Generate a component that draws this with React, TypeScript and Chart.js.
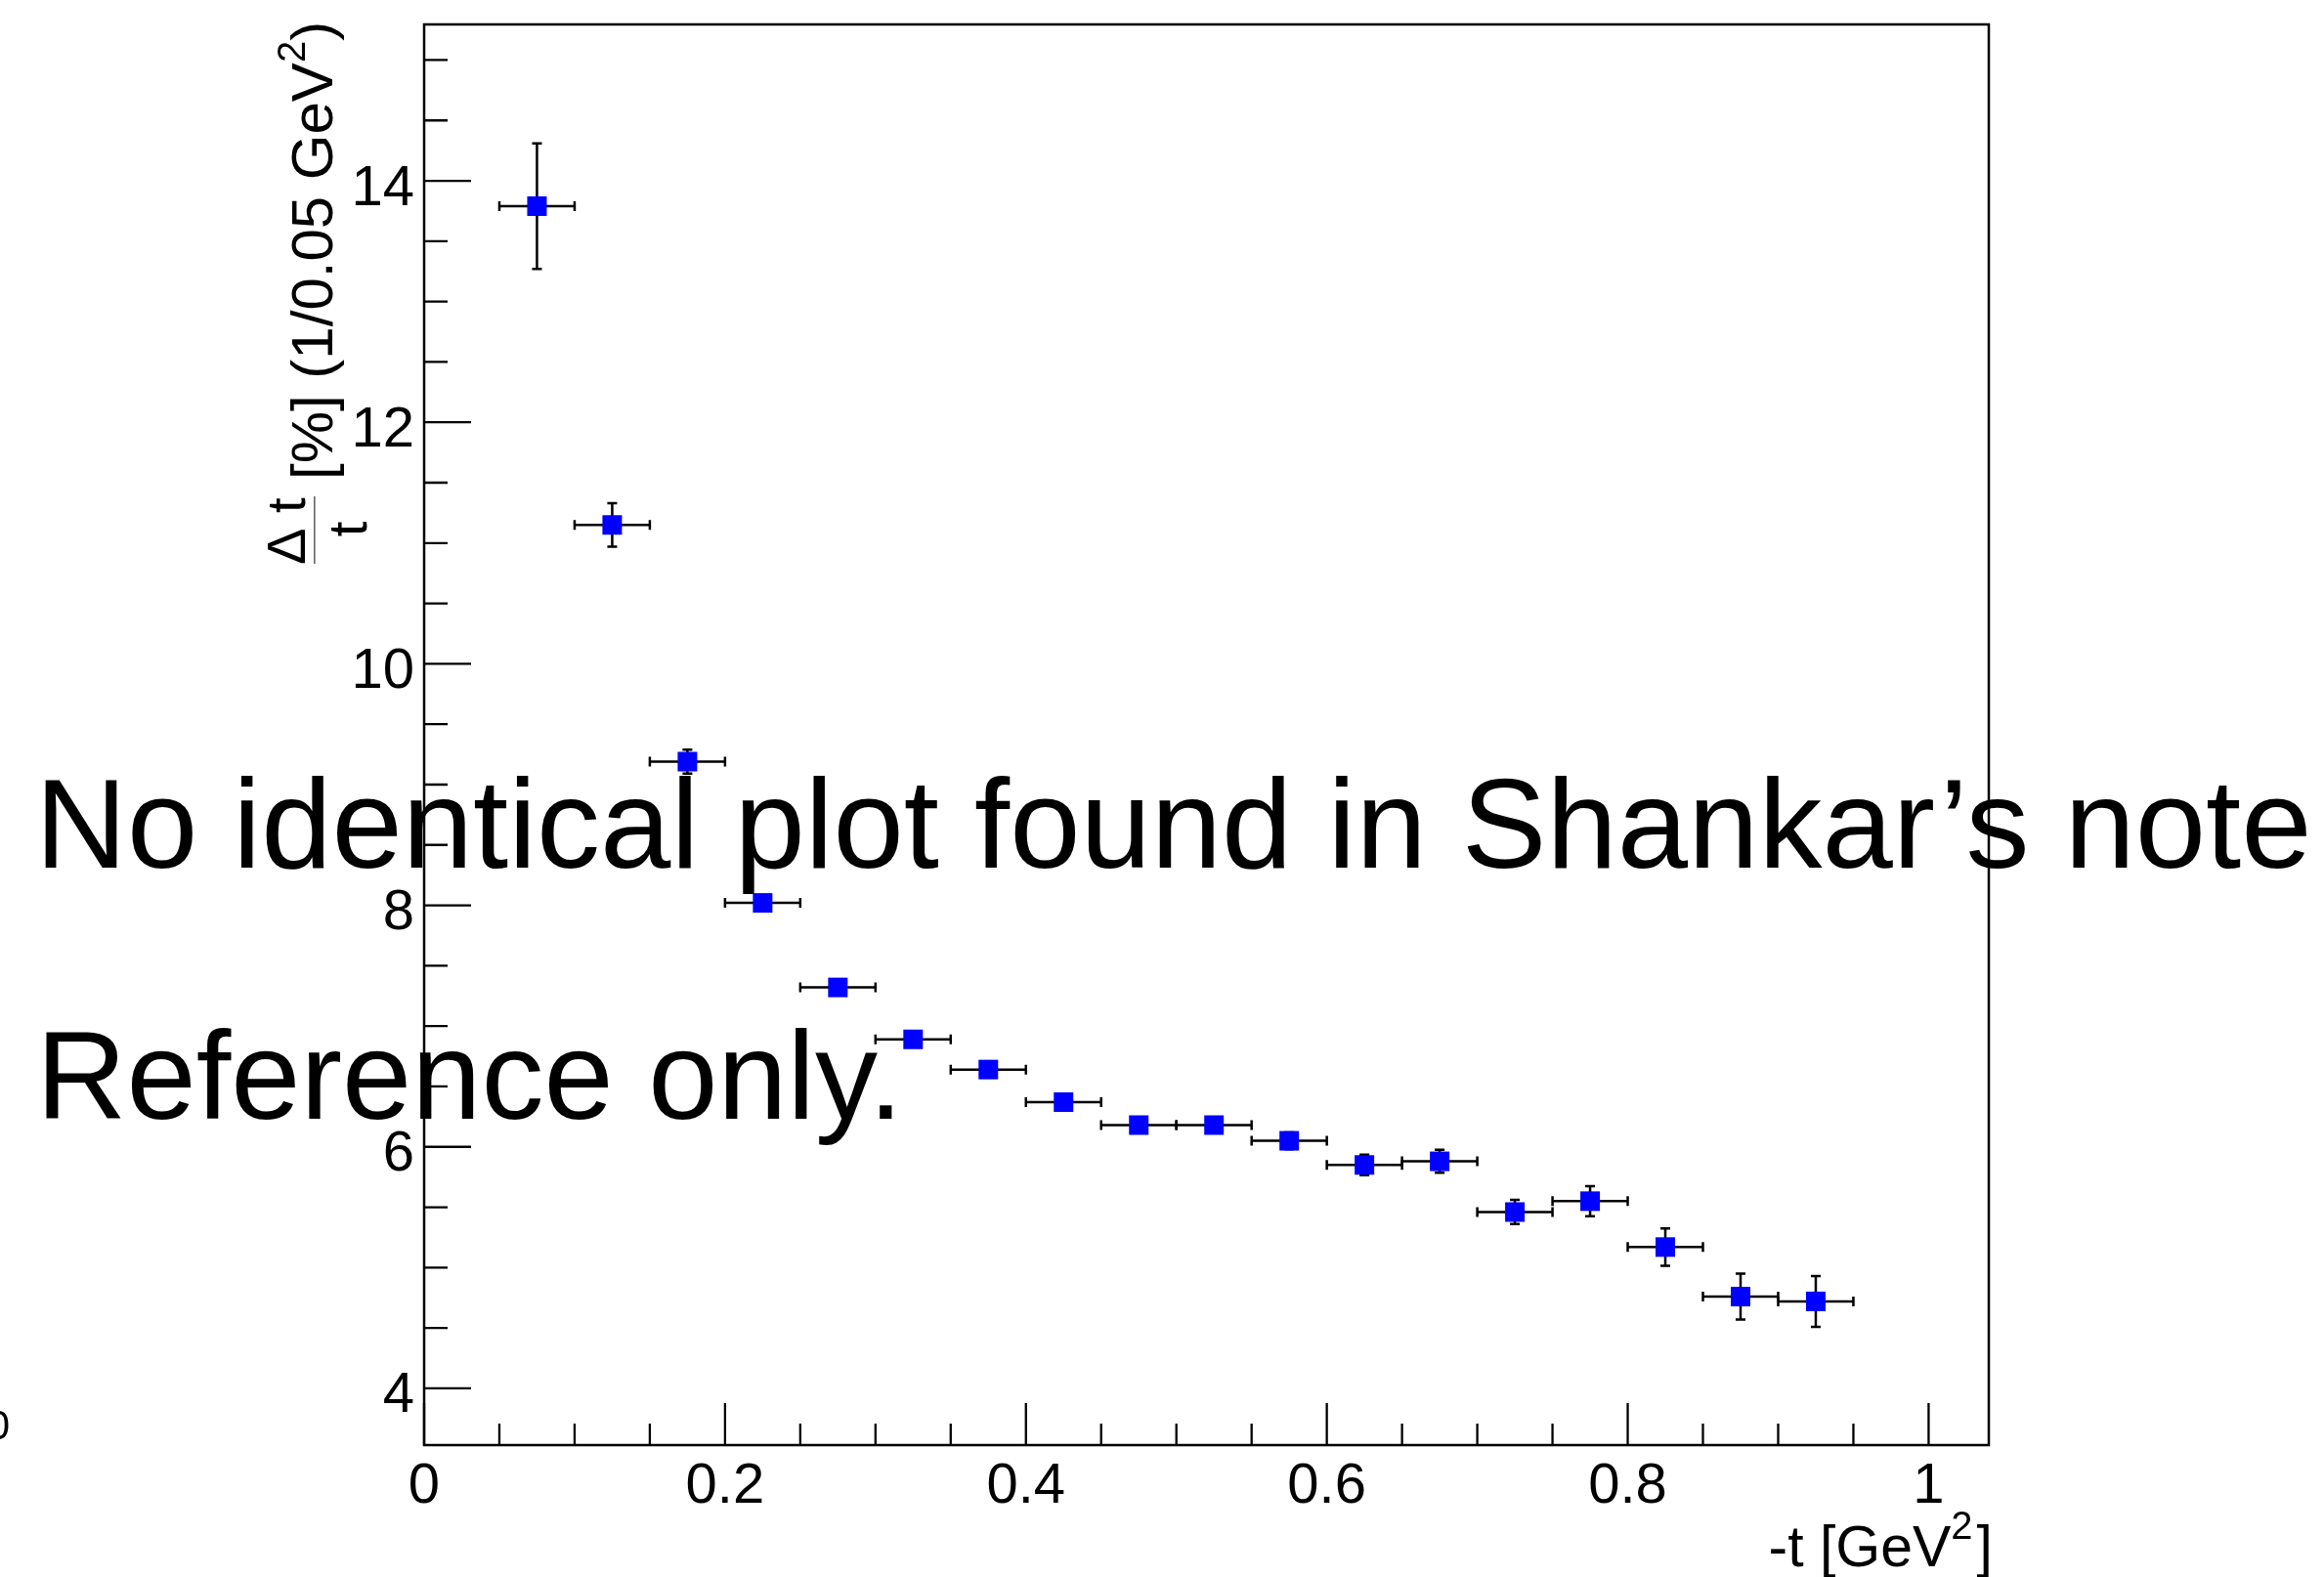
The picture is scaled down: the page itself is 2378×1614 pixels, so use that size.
import React, { useEffect, useRef } from 'react';
import { Chart, registerables } from 'chart.js';

Chart.register(...registerables);

// ---- data ----
const tValues = [0.075, 0.125, 0.175, 0.225, 0.275, 0.325, 0.375, 0.425, 0.475, 0.525, 0.575, 0.625, 0.675, 0.725, 0.775, 0.825, 0.875, 0.925];
const ratioValues = [13.79, 11.15, 9.19, 8.02, 7.32, 6.89, 6.64, 6.37, 6.18, 6.18, 6.05, 5.85, 5.88, 5.46, 5.55, 5.17, 4.76, 4.72];
const ratioErrors = [0.52, 0.18, 0.10, 0.06, 0.06, 0.06, 0.06, 0.06, 0.06, 0.06, 0.07, 0.085, 0.095, 0.10, 0.125, 0.155, 0.19, 0.21];
const tHalfWidths = [0.025, 0.025, 0.025, 0.025, 0.025, 0.025, 0.025, 0.025, 0.025, 0.025, 0.025, 0.025, 0.025, 0.025, 0.025, 0.025, 0.025, 0.025];

const xTickValues = [0, 0.2, 0.4, 0.6, 0.8, 1];
const xTickLabels = ['0', '0.2', '0.4', '0.6', '0.8', '1'];
const yTickValues = [4, 6, 8, 10, 12, 14];
const yTickLabels = ['4', '6', '8', '10', '12', '14'];
const xMinorStep = 0.05;
const yMinorStep = 0.5;

const xTitleMain = '-t [GeV';
const xTitleSup = '2';
const xTitleEnd = ']';
const yTitleNumerator = 'Δ t';
const yTitleDenominator = 't';
const yTitleMain = '[%] (1/0.05 GeV';
const yTitleSup = '2';
const yTitleEnd = ')';
const watermarkLines = ['No identical plot found in Shankar’s note', 'Reference only.'];
const strayLabel = '0';

const FONT = '"Liberation Sans", Arial, Helvetica, sans-serif';

const rootStylePlugin = {
  id: 'rootStyle',
  beforeDatasetsDraw(chart: any) {
    const { ctx, scales } = chart;
    const x = scales.x;
    const y = scales.y;
    const cap = 5;
    ctx.save();
    ctx.strokeStyle = '#000';
    ctx.lineWidth = 2.5;
    ctx.lineCap = 'butt';
    for (let i = 0; i < tValues.length; i++) {
      const px = x.getPixelForValue(tValues[i]);
      const py = y.getPixelForValue(ratioValues[i]);
      const xl = x.getPixelForValue(tValues[i] - tHalfWidths[i]);
      const xr = x.getPixelForValue(tValues[i] + tHalfWidths[i]);
      const yt = y.getPixelForValue(ratioValues[i] + ratioErrors[i]);
      const yb = y.getPixelForValue(ratioValues[i] - ratioErrors[i]);
      ctx.beginPath();
      ctx.moveTo(xl, py); ctx.lineTo(xr, py);
      ctx.moveTo(xl, py - cap); ctx.lineTo(xl, py + cap);
      ctx.moveTo(xr, py - cap); ctx.lineTo(xr, py + cap);
      ctx.moveTo(px, yt); ctx.lineTo(px, yb);
      ctx.moveTo(px - cap, yt); ctx.lineTo(px + cap, yt);
      ctx.moveTo(px - cap, yb); ctx.lineTo(px + cap, yb);
      ctx.stroke();
    }
    ctx.restore();
  },
  afterDraw(chart: any) {
    const { ctx, chartArea, scales } = chart;
    const x = scales.x;
    const y = scales.y;
    const { left, right, top, bottom } = chartArea;
    ctx.save();
    ctx.strokeStyle = '#000';
    ctx.fillStyle = '#000';

    // frame
    ctx.lineWidth = 2.5;
    ctx.strokeRect(left, top, right - left, bottom - top);

    // ticks
    ctx.lineWidth = 2.3;
    ctx.beginPath();
    for (let v = 0; v <= x.max + 1e-9; v += xMinorStep) {
      const vv = Math.round(v * 100) / 100;
      const px = x.getPixelForValue(vv);
      const isMajor = xTickValues.some((m) => Math.abs(m - vv) < 1e-6);
      const len = isMajor ? 43 : 22;
      ctx.moveTo(px, bottom);
      ctx.lineTo(px, bottom - len);
    }
    const yStart = Math.ceil(y.min / yMinorStep) * yMinorStep;
    for (let v = yStart; v <= y.max + 1e-9; v += yMinorStep) {
      const py = y.getPixelForValue(v);
      const isMajor = yTickValues.some((m) => Math.abs(m - v) < 1e-6);
      const len = isMajor ? 48 : 24;
      ctx.moveTo(left, py);
      ctx.lineTo(left + len, py);
    }
    ctx.stroke();

    // tick labels
    ctx.font = `58px ${FONT}`;
    ctx.textBaseline = 'alphabetic';
    ctx.textAlign = 'center';
    xTickValues.forEach((v, i) => {
      ctx.fillText(xTickLabels[i], x.getPixelForValue(v), bottom + 59);
    });
    ctx.textAlign = 'right';
    yTickValues.forEach((v, i) => {
      ctx.fillText(yTickLabels[i], left - 10, y.getPixelForValue(v) + 24.5);
    });

    // x title
    ctx.textAlign = 'left';
    ctx.font = `59px ${FONT}`;
    const wMain = ctx.measureText(xTitleMain).width;
    const wEnd = ctx.measureText(xTitleEnd).width;
    ctx.font = `40px ${FONT}`;
    const wSup = ctx.measureText(xTitleSup).width;
    const xEndPos = right + 4;
    const xStartPos = xEndPos - wMain - wSup - wEnd - 4;
    const xBase = 1603;
    ctx.font = `59px ${FONT}`;
    ctx.fillText(xTitleMain, xStartPos, xBase);
    ctx.font = `40px ${FONT}`;
    ctx.fillText(xTitleSup, xStartPos + wMain, xBase - 28);
    ctx.font = `59px ${FONT}`;
    ctx.fillText(xTitleEnd, xStartPos + wMain + wSup + 4, xBase);

    // y title (rotated)
    ctx.save();
    ctx.translate(340, 491);
    ctx.rotate(-Math.PI / 2);
    ctx.textAlign = 'left';
    ctx.font = `60px ${FONT}`;
    ctx.fillText(yTitleMain, 0, 0);
    const yw1 = ctx.measureText(yTitleMain).width;
    ctx.font = `40px ${FONT}`;
    ctx.fillText(yTitleSup, yw1, -28);
    const yw2 = ctx.measureText(yTitleSup).width;
    ctx.font = `60px ${FONT}`;
    ctx.fillText(yTitleEnd, yw1 + yw2, 0);
    ctx.restore();

    // fraction
    ctx.save();
    ctx.translate(311.7, 578);
    ctx.rotate(-Math.PI / 2);
    ctx.font = `56px ${FONT}`;
    ctx.textAlign = 'left';
    ctx.fillText(yTitleNumerator, 0, 0);
    ctx.restore();
    ctx.save();
    ctx.translate(375, 541.5);
    ctx.rotate(-Math.PI / 2);
    ctx.font = `56px ${FONT}`;
    ctx.textAlign = 'center';
    ctx.fillText(yTitleDenominator, 0, 0);
    ctx.restore();
    ctx.fillStyle = '#666';
    ctx.fillRect(321, 508, 1.6, 69);
    ctx.fillStyle = '#000';

    // stray label at far left
    ctx.font = `42px ${FONT}`;
    ctx.textAlign = 'right';
    ctx.fillText(strayLabel, 10, 1473);

    // watermark text
    ctx.textAlign = 'left';
    ctx.font = `130px ${FONT}`;
    ctx.fillText(watermarkLines[0], 36, 888);
    ctx.font = `128px ${FONT}`;
    ctx.fillText(watermarkLines[1], 37, 1145);

    ctx.restore();
  },
};

export default function App() {
  const canvasRef = useRef<HTMLCanvasElement | null>(null);

  useEffect(() => {
    const canvas = canvasRef.current;
    if (!canvas) return;
    const chart = new Chart(canvas, {
      type: 'scatter',
      data: {
        datasets: [
          {
            label: 'dt/t',
            data: tValues.map((t, i) => ({ x: t, y: ratioValues[i] })),
            pointStyle: 'rect',
            pointRadius: 14.14,
            pointHoverRadius: 14.14,
            backgroundColor: '#0000ff',
            borderColor: '#0000ff',
            borderWidth: 0,
            showLine: false,
          },
        ],
      },
      options: {
        animation: false,
        responsive: false,
        devicePixelRatio: 1,
        events: [],
        layout: { padding: { left: 434, top: 25, right: 343, bottom: 135 } },
        plugins: { legend: { display: false }, tooltip: { enabled: false } },
        scales: {
          x: { type: 'linear', min: 0, max: 1.04, display: false },
          y: { type: 'linear', min: 3.53, max: 15.295, display: false },
        },
      },
      plugins: [rootStylePlugin],
    } as any);
    return () => chart.destroy();
  }, []);

  return (
    <div style={{ position: 'fixed', left: 0, top: 0, width: 2378, height: 1614, background: '#ffffff' }}>
      <canvas ref={canvasRef} width={2378} height={1614} style={{ display: 'block', width: 2378, height: 1614 }} />
    </div>
  );
}
